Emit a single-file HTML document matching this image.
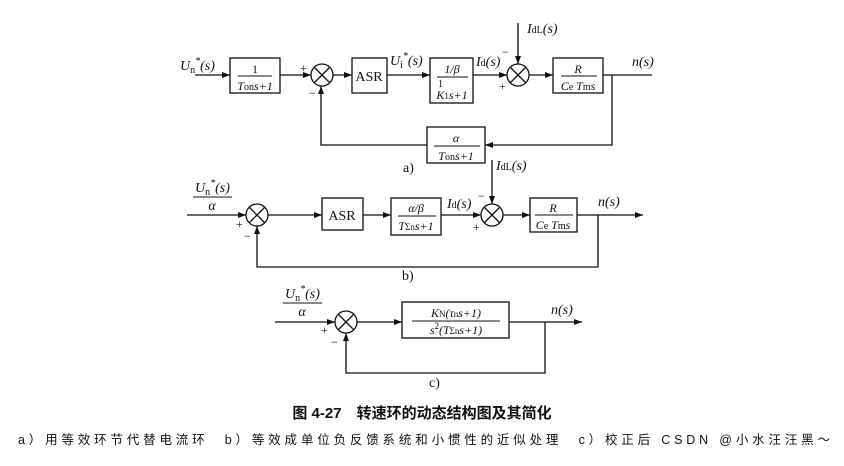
<!DOCTYPE html>
<html><head><meta charset="utf-8"><style>
html,body{margin:0;padding:0;background:#fff;width:844px;height:466px;overflow:hidden}
svg{display:block}
text{font-family:"Liberation Serif","Noto Serif CJK SC",serif;fill:#111}
.i{font-style:italic}
.cap{font-family:"Liberation Sans","Noto Sans CJK SC",sans-serif}
</style></head><body>
<svg width="844" height="466" viewBox="0 0 844 466" xmlns="http://www.w3.org/2000/svg">
<defs><marker id="a" markerWidth="8" markerHeight="6" refX="8" refY="3" orient="auto" markerUnits="userSpaceOnUse"><path d="M0,0 L8,3 L0,6z" fill="#111"/></marker></defs>
<g stroke="#111" stroke-width="1.3" fill="none">
<!-- a) -->
<line x1="195" y1="75" x2="230" y2="75" marker-end="url(#a)"/>
<rect x="230" y="58" width="50" height="35"/>
<line x1="280" y1="75" x2="311" y2="75" marker-end="url(#a)"/>
<circle cx="322" cy="75" r="11"/><path d="M314,67 L330,83 M330,67 L314,83"/>
<line x1="333" y1="75" x2="352" y2="75" marker-end="url(#a)"/>
<rect x="352" y="58" width="35" height="35"/>
<line x1="387" y1="75" x2="430" y2="75" marker-end="url(#a)"/>
<rect x="430" y="58" width="43" height="45"/>
<line x1="473" y1="75" x2="507" y2="75" marker-end="url(#a)"/>
<circle cx="518" cy="75" r="11"/><path d="M510,67 L526,83 M526,67 L510,83"/>
<line x1="518" y1="23" x2="518" y2="64" marker-end="url(#a)"/>
<line x1="529" y1="75" x2="553" y2="75" marker-end="url(#a)"/>
<rect x="553" y="58" width="50" height="35"/>
<line x1="603" y1="75" x2="652" y2="75"/>
<polyline points="612,75 612,145 485,145" marker-end="url(#a)"/>
<rect x="427" y="127" width="58" height="36"/>
<polyline points="427,145 321,145 321,86" marker-end="url(#a)"/>
<line x1="238" y1="76" x2="272" y2="76" stroke-width="0.9"/>
<line x1="437" y1="77" x2="468" y2="77" stroke-width="0.9"/>
<line x1="561" y1="76" x2="597" y2="76" stroke-width="0.9"/>
<line x1="434" y1="146" x2="480" y2="146" stroke-width="0.9"/>
<!-- b) -->
<line x1="187" y1="215" x2="246" y2="215" marker-end="url(#a)"/>
<circle cx="257" cy="215" r="11"/><path d="M249,207 L265,223 M265,207 L249,223"/>
<line x1="268" y1="215" x2="322" y2="215" marker-end="url(#a)"/>
<rect x="322" y="198" width="41" height="32"/>
<line x1="363" y1="215" x2="391" y2="215" marker-end="url(#a)"/>
<rect x="391" y="198" width="50" height="37"/>
<line x1="441" y1="215" x2="481" y2="215" marker-end="url(#a)"/>
<circle cx="492" cy="215" r="11"/><path d="M484,207 L500,223 M500,207 L484,223"/>
<line x1="492" y1="160" x2="492" y2="204" marker-end="url(#a)"/>
<line x1="503" y1="215" x2="530" y2="215" marker-end="url(#a)"/>
<rect x="530" y="198" width="47" height="34"/>
<line x1="577" y1="215" x2="643" y2="215" marker-end="url(#a)"/>
<polyline points="598,215 598,267 257,267 257,226" marker-end="url(#a)"/>
<line x1="398" y1="216" x2="436" y2="216" stroke-width="0.9"/>
<line x1="535" y1="215" x2="573" y2="215" stroke-width="0.9"/>
<line x1="193" y1="197" x2="232" y2="197" stroke-width="0.9"/>
<!-- c) -->
<line x1="275" y1="322" x2="335" y2="322" marker-end="url(#a)"/>
<circle cx="346" cy="322" r="11"/><path d="M338,314 L354,330 M354,314 L338,330"/>
<line x1="357" y1="322" x2="402" y2="322" marker-end="url(#a)"/>
<rect x="402" y="302" width="107" height="36"/>
<line x1="509" y1="322" x2="582" y2="322" marker-end="url(#a)"/>
<polyline points="545,322 545,373 346,373 346,333" marker-end="url(#a)"/>
<line x1="412" y1="321" x2="500" y2="321" stroke-width="0.9"/>
<line x1="283" y1="303" x2="322" y2="303" stroke-width="0.9"/>
</g>
<g font-size="14">
<!-- a) text -->
<text x="180" y="70" class="i">U<tspan font-size="10" dy="3" font-style="normal">n</tspan><tspan font-size="10" dy="-9">*</tspan><tspan dy="6">(s)</tspan></text>
<text x="255" y="73" text-anchor="middle" font-size="12">1</text>
<text x="255" y="90" text-anchor="middle" font-size="12" class="i">T<tspan font-size="10" font-style="normal">on</tspan>s+1</text>
<text x="300" y="72" font-size="12">+</text>
<text x="309" y="97" font-size="12">−</text>
<text x="369" y="81" text-anchor="middle">ASR</text>
<text x="390" y="65" class="i">U<tspan font-size="10" dy="3" font-style="normal">i</tspan><tspan font-size="10" dy="-9">*</tspan><tspan dy="6">(s)</tspan></text>
<text x="452" y="73" text-anchor="middle" font-size="12" class="i">1/β</text>
<text x="452" y="99" text-anchor="middle" font-size="12" class="i">K<tspan font-size="9" font-style="normal">1</tspan>s+1</text>
<text x="438" y="87" font-size="10">1</text>
<text x="476" y="66" class="i">I<tspan font-size="10" font-style="normal">d</tspan>(s)</text>
<text x="502" y="56" font-size="12">−</text>
<text x="499" y="90" font-size="12">+</text>
<text x="527" y="33" class="i">I<tspan font-size="10" font-style="normal">dL</tspan>(s)</text>
<text x="578" y="73" text-anchor="middle" font-size="12" class="i">R</text>
<text x="578" y="90" text-anchor="middle" font-size="12" class="i">C<tspan font-size="10" font-style="normal">e</tspan> T<tspan font-size="10" font-style="normal">m</tspan>s</text>
<text x="632" y="66" class="i">n(s)</text>
<text x="456" y="142" text-anchor="middle" font-size="12" class="i">α</text>
<text x="456" y="160" text-anchor="middle" font-size="12" class="i">T<tspan font-size="10" font-style="normal">on</tspan>s+1</text>
<text x="403" y="172">a)</text>
<!-- b) text -->
<text x="496" y="170" class="i">I<tspan font-size="10" font-style="normal">dL</tspan>(s)</text>
<text x="195" y="192" class="i">U<tspan font-size="10" dy="3" font-style="normal">n</tspan><tspan font-size="10" dy="-9">*</tspan><tspan dy="6">(s)</tspan></text>
<text x="212" y="210" text-anchor="middle" class="i">α</text>
<text x="236" y="228" font-size="12">+</text>
<text x="244" y="240" font-size="12">−</text>
<text x="342" y="220" text-anchor="middle">ASR</text>
<text x="416" y="212" text-anchor="middle" font-size="12" class="i">α/β</text>
<text x="416" y="230" text-anchor="middle" font-size="12" class="i">T<tspan font-size="9" font-style="normal">Σn</tspan>s+1</text>
<text x="447" y="208" class="i">I<tspan font-size="10" font-style="normal">d</tspan>(s)</text>
<text x="478" y="200" font-size="12">−</text>
<text x="473" y="231" font-size="12">+</text>
<text x="553" y="212" text-anchor="middle" font-size="12" class="i">R</text>
<text x="553" y="229" text-anchor="middle" font-size="12" class="i">C<tspan font-size="10" font-style="normal">e</tspan> T<tspan font-size="10" font-style="normal">m</tspan>s</text>
<text x="598" y="206" class="i">n(s)</text>
<text x="402" y="280">b)</text>
<!-- c) text -->
<text x="285" y="298" class="i">U<tspan font-size="10" dy="3" font-style="normal">n</tspan><tspan font-size="10" dy="-9">*</tspan><tspan dy="6">(s)</tspan></text>
<text x="302" y="316" text-anchor="middle" class="i">α</text>
<text x="321" y="334" font-size="12">+</text>
<text x="331" y="346" font-size="12">−</text>
<text x="456" y="317" text-anchor="middle" font-size="12" class="i">K<tspan font-size="9" font-style="normal">N</tspan>(τ<tspan font-size="9" font-style="normal">n</tspan>s+1)</text>
<text x="456" y="334" text-anchor="middle" font-size="12" class="i">s<tspan font-size="9" dy="-5" font-style="normal">2</tspan><tspan dy="5">(T</tspan><tspan font-size="9" font-style="normal">Σn</tspan>s+1)</text>
<text x="551" y="314" class="i">n(s)</text>
<text x="429" y="387">c)</text>
</g>
<text x="422" y="418" text-anchor="middle" font-size="15" font-weight="bold" class="cap">图 4-27　转速环的动态结构图及其简化</text>
<text x="18" y="444" font-size="12.5" fill="#444" class="cap" textLength="812">a）用等效环节代替电流环　b）等效成单位负反馈系统和小惯性的近似处理　c）校正后 CSDN @小水汪汪黑～</text>
</svg>
</body></html>
